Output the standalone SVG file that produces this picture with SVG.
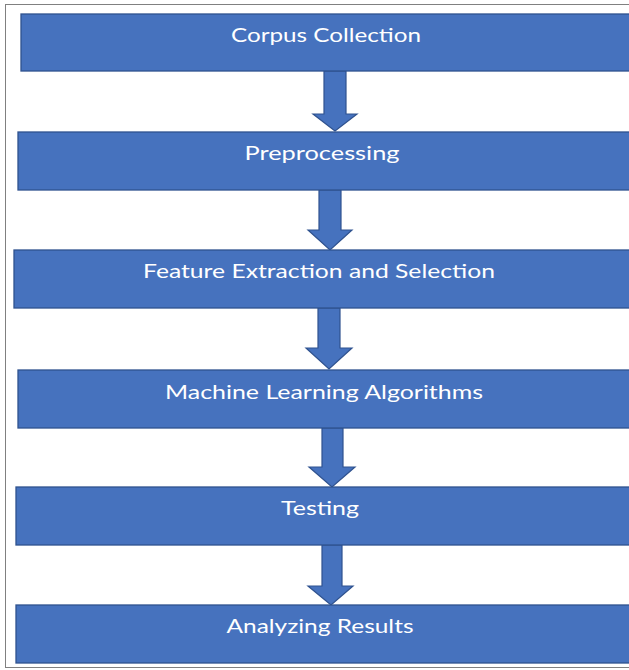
<svg xmlns="http://www.w3.org/2000/svg" width="629" height="670" viewBox="0 0 629 670">
<style>
.box{fill:#4672BE;stroke:#2F528F;stroke-width:1.3}
.arr{fill:#4672BE;stroke:#2F528F;stroke-width:1.2}
.lbl{fill:#ffffff;font-family:Lato,"Open Sans","Liberation Sans",sans-serif;font-size:20px;text-anchor:middle}
</style>
<rect x="0" y="0" width="629" height="670" fill="#ffffff"/>
<rect x="5.5" y="4.5" width="640" height="663" fill="none" stroke="#808080" stroke-width="1"/>
<g id="connectors">
<polygon class="arr" points="324,71 346,71 346,114 357,114 335,131 313,114 324,114"/>
<polygon class="arr" points="319,190 341,190 341,230 352,230 330,250 308,230 319,230"/>
<polygon class="arr" points="318,308 340,308 340,348 352,348 329,369 306,348 318,348"/>
<polygon class="arr" points="322,428 343,428 343,467 355,467 332,487 309,467 322,467"/>
<polygon class="arr" points="322,545 342,545 342,586 353,586 331,605 308,586 322,586"/>
</g>
<g id="corpus">
<rect class="box" x="21" y="14" width="620" height="57"/>
<text class="lbl" x="326" y="42" textLength="190" lengthAdjust="spacingAndGlyphs">Corpus Collection</text>
</g>
<g id="preprocessing">
<rect class="box" x="18" y="132" width="620" height="58"/>
<text class="lbl" x="322" y="160" textLength="155" lengthAdjust="spacingAndGlyphs">Preprocessing</text>
</g>
<g id="feature">
<rect class="box" x="14" y="250" width="620" height="58"/>
<text class="lbl" x="319" y="278" textLength="352" lengthAdjust="spacingAndGlyphs">Feature Extraction and Selection</text>
</g>
<g id="ml">
<rect class="box" x="18" y="370" width="620" height="58"/>
<text class="lbl" x="324" y="399" textLength="318" lengthAdjust="spacingAndGlyphs">Machine Learning Algorithms</text>
</g>
<g id="testing">
<rect class="box" x="16" y="487" width="620" height="58"/>
<text class="lbl" x="320" y="515" textLength="78" lengthAdjust="spacingAndGlyphs">Testing</text>
</g>
<g id="analyzing">
<rect class="box" x="16" y="605" width="620" height="58"/>
<text class="lbl" x="320" y="633" textLength="187" lengthAdjust="spacingAndGlyphs">Analyzing Results</text>
</g>
</svg>
